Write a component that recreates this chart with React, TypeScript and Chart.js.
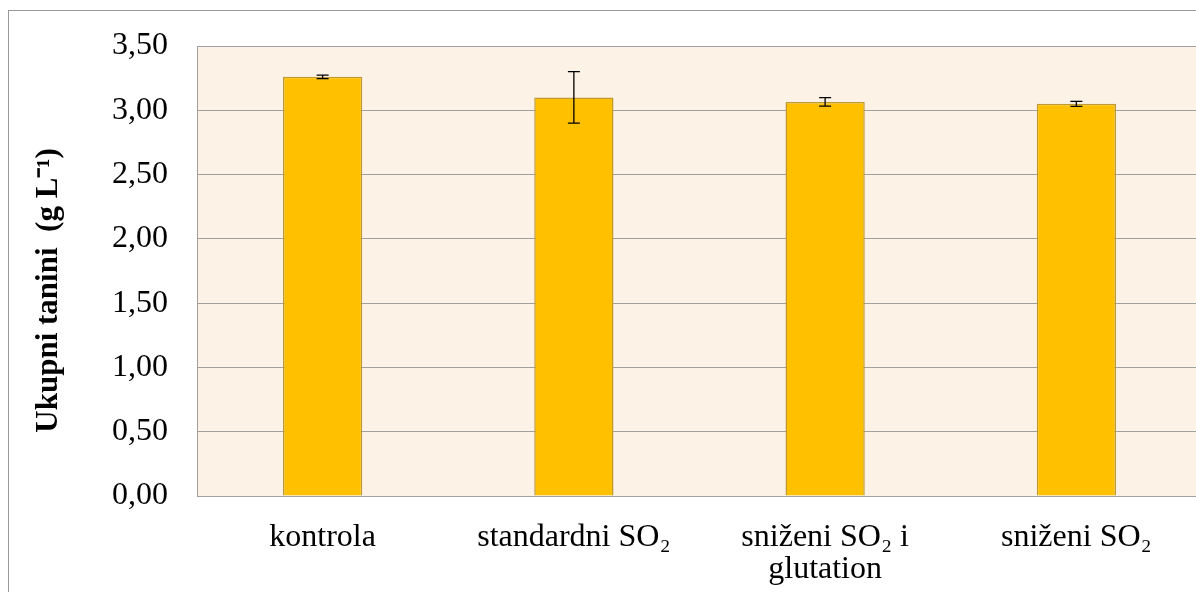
import React, { useEffect, useRef } from "react";
import { Chart, registerables } from "chart.js";

Chart.register(...registerables);

const categories: (string | string[])[] = [
  "kontrola",
  "standardni SO₂",
  ["sniženi SO₂ i", "glutation"],
  "sniženi SO₂",
];
const values = [3.26, 3.1, 3.065, 3.05];
const errors = [0.013, 0.2, 0.033, 0.02];
const yTicksMin = 0;
const yTicksMax = 3.5;
const yTicksStep = 0.5;
const yTitle = "Ukupni tanini  (g L⁻¹)     ";

const bgPlugin = {
  id: "plotBg",
  beforeDraw(chart: any) {
    const { ctx, chartArea } = chart;
    ctx.save();
    ctx.fillStyle = "#FDF2E6";
    ctx.fillRect(chartArea.left, chartArea.top, chartArea.right - chartArea.left, chartArea.bottom - chartArea.top);
    ctx.restore();
  },
};

const errPlugin = {
  id: "errBars",
  afterDatasetsDraw(chart: any) {
    const { ctx } = chart;
    const xs = chart.scales.x;
    const ys = chart.scales.y;
    ctx.save();
    ctx.strokeStyle = "#000";
    ctx.lineWidth = 1.3;
    values.forEach((v, i) => {
      const x = xs.getPixelForValue(i);
      const t = ys.getPixelForValue(v + errors[i]);
      const b = ys.getPixelForValue(v - errors[i]);
      ctx.beginPath();
      ctx.moveTo(x, t);
      ctx.lineTo(x, b);
      ctx.moveTo(x - 6, t);
      ctx.lineTo(x + 6, t);
      ctx.moveTo(x - 6, b);
      ctx.lineTo(x + 6, b);
      ctx.stroke();
    });
    ctx.restore();
  },
};

const serif = "'Liberation Serif', 'Times New Roman', serif";

export default function App() {
  const ref = useRef<HTMLCanvasElement>(null);
  useEffect(() => {
    if (!ref.current) return;
    const chart = new Chart(ref.current, {
      type: "bar",
      data: {
        labels: categories,
        datasets: [
          {
            data: values,
            backgroundColor: "#FFC000",
            borderColor: "#BF9A30",
            borderWidth: 1.5,
            barPercentage: 0.3155,
            categoryPercentage: 1,
          },
        ],
      },
      options: {
        responsive: false,
        animation: false,
        events: [],
        layout: { padding: { left: 0, right: 27, top: 35, bottom: 0 } },
        plugins: { legend: { display: false }, tooltip: { enabled: false } },
        scales: {
          x: {
            grid: { display: false, drawTicks: false },
            border: { display: true, color: "#A0A0A0", width: 1 },
            ticks: {
              color: "#000",
              font: { family: serif, size: 32, lineHeight: 1.0 },
              padding: 26,
              maxRotation: 0,
              autoSkip: false,
            },
            afterFit(scale: any) {
              scale.height = 115;
            },
          },
          y: {
            min: yTicksMin,
            max: yTicksMax,
            grid: { color: "#A0A0A0", lineWidth: 1, drawTicks: false },
            border: { display: true, color: "#A0A0A0", width: 1 },
            ticks: {
              stepSize: yTicksStep,
              color: "#000",
              padding: 29,
              font: { family: serif, size: 32 },
              callback: (v: any) => Number(v).toFixed(2).replace(".", ","),
            },
            title: {
              display: true,
              text: yTitle,
              color: "#000",
              font: { family: serif, size: 31, weight: "bold" },
              padding: { top: 21, bottom: 0 },
            },
            afterFit(scale: any) {
              scale.width = 188;
              scale.paddingTop = 0;
              scale.paddingBottom = 0;
            },
          },
        },
      },
      plugins: [bgPlugin, errPlugin],
    });
    return () => chart.destroy();
  }, []);
  return (
    <div style={{ position: "fixed", left: 0, top: 0, width: 1196, height: 592, overflow: "hidden", background: "#fff" }}>
      <div
        style={{
          position: "absolute",
          left: 8,
          top: 10,
          width: 1220,
          height: 600,
          border: "1px solid #999",
          background: "#fff",
        }}
      >
        <canvas ref={ref} width={1220} height={600} style={{ position: "absolute", left: 0, top: 0 }} />
      </div>
    </div>
  );
}
